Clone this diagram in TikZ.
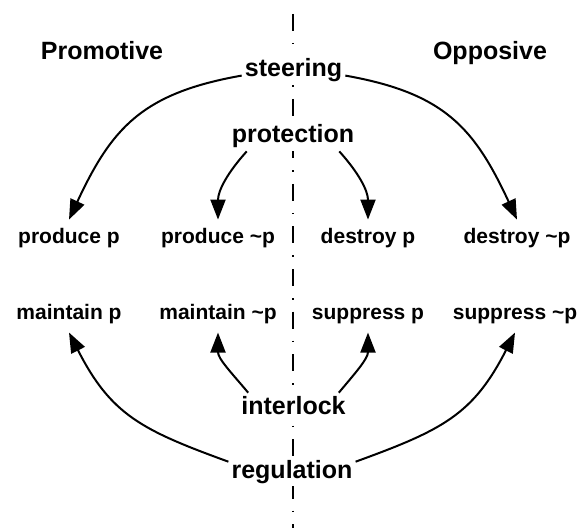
\documentclass[tikz,border=0pt]{standalone}
\usepackage{fontspec}
\setmainfont{Liberation Sans}
\usetikzlibrary{arrows.meta}
\begin{document}
\begin{tikzpicture}[x=1pt,y=1pt,
  lab/.style={font=\bfseries\fontsize{21}{24}\selectfont, anchor=base, inner xsep=2pt, inner ysep=9pt},
  big/.style={font=\bfseries\fontsize{25}{28}\selectfont, anchor=base, inner sep=3pt, fill=white},
  arr/.style={line width=2pt, -{Triangle[length=20pt,width=15pt]}},
  axisline/.style={line width=2pt, dash pattern=on 17pt off 12pt on 1.5pt off 12pt}]
\useasboundingbox (0,0) rectangle (583,528);
\draw[axisline] (293,514) -- (293,0);
% headers
\node[big] (promo) at (102,468) {Promotive};
\node[big] (oppo) at (490,468) {Opposive};
% centre labels
\node[big] (steer) at (293.5,451) {steering};
\node[big] (prot) at (293,385) {protection};
\node[big] (inter) at (293.5,114) {interlock};
\node[big] (reg) at (292,50) {regulation};
% rows
\node[lab] (pp)  at (69,284)  {produce p};
\node[lab] (pnp) at (218,284) {produce \char`\~p};
\node[lab] (dp)  at (368,284) {destroy p};
\node[lab] (dnp) at (517,284) {destroy \char`\~p};
\node[lab] (mp)  at (69,209)  {maintain p};
\node[lab] (mnp) at (218,209) {maintain \char`\~p};
\node[lab] (sp)  at (368,209) {suppress p};
\node[lab] (snp) at (515,209) {suppress \char`\~p};
% arrows
\draw[arr] ([yshift=-5pt]steer.west) to[out=190,in=65,looseness=1.15] (pp.north);
\draw[arr] ([yshift=-5pt]steer.east) to[out=-10,in=115,looseness=1.15] (dnp.north);
\draw[arr] ([xshift=18pt]prot.south west) to[out=228,in=90] (pnp.north);
\draw[arr] ([xshift=-18pt]prot.south east) to[out=-48,in=90] (dp.north);
\draw[arr] ([xshift=10pt]inter.north west) to[out=130,in=-90] (mnp.south);
\draw[arr] ([xshift=-10pt]inter.north east) to[out=50,in=-90] (sp.south);
\draw[arr] ([yshift=-5pt]reg.north west) to[out=160,in=-63,looseness=1.15] (mp.south);
\draw[arr] ([yshift=-5pt]reg.north east) to[out=20,in=-117,looseness=1.15] (snp.south);
\end{tikzpicture}
\end{document}
